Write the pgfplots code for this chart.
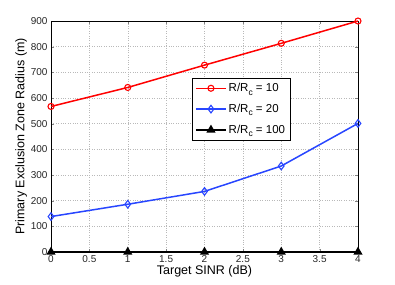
\documentclass[border=0pt]{standalone}
\usepackage{fontspec}
\setmainfont{Liberation Sans}
\usepackage{pgfplots}
\pgfplotsset{compat=1.18}
\usetikzlibrary{calc}
\newcommand{\sbc}{\raisebox{-0.55ex}{\fontsize{8.5}{9}\selectfont c}}
\begin{document}
\begin{tikzpicture}
\begin{axis}[
  scale only axis,
  width=307pt, height=231pt,
  xmin=0, xmax=4, ymin=0, ymax=900,
  xtick={0,0.5,...,4},
  ytick={0,100,...,900},
  xticklabels={0,0.5,1,1.5,2,2.5,3,3.5,4},
  /pgf/number format/assume math mode=true,
  tick label style={font=\fontsize{10}{11}\selectfont, color=black!85},
  label style={font=\fontsize{12.5}{13}\selectfont},
  xlabel={Target SINR (dB)},
  ylabel={Primary Exclusion Zone Radius (m)},
  xlabel style={yshift=4pt},
  ylabel style={yshift=-3pt},
  grid=major,
  major grid style={dotted, gray!55, line width=0.5pt},
  tick align=inside,
  major tick length=3pt,
  axis line style={line width=0.6pt},
  clip=false,
  legend style={at={(0.459,0.753)}, anchor=north west, font=\fontsize{11.5}{12}\selectfont, draw=black, line width=0.6pt, row sep=7pt, inner sep=3pt},
  legend cell align=left,
  legend image code/.code={\draw[mark repeat=2,mark phase=2,#1] plot coordinates {(0pt,0pt) (15pt,0pt) (30pt,0pt)};},
]
\addplot[color={rgb,255:red,255;green,0;blue,0}, line width=1.5pt, mark=o, mark size=3pt, mark options={solid, line width=1.1pt}] coordinates {(0,567) (1,641) (2,728) (3,813) (4,900)};
\addlegendentry{R/R\sbc\ = 10}
\addplot[color={rgb,255:red,40;green,70;blue,255}, line width=1.5pt, mark=diamond, mark size=3.8pt, mark options={solid, line width=1.1pt}] coordinates {(0,138) (1,186) (2,236) (3,335) (4,501)};
\addlegendentry{R/R\sbc\ = 20}
\addplot[black, line width=1.5pt, mark=triangle*, mark size=3.8pt, mark options={solid}] coordinates {(0,0) (1,0) (2,0) (3,0) (4,0)};
\addlegendentry{R/R\sbc\ = 100}
\end{axis}
\path[use as bounding box] ($(current axis.south west)+(-51pt,-33pt)$) rectangle ($(current axis.north east)+(37pt,21pt)$);
\end{tikzpicture}
\end{document}
